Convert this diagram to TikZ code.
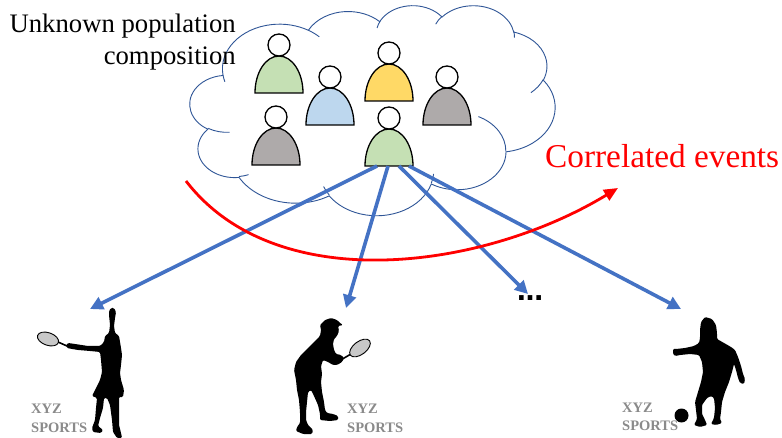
\documentclass[tikz,border=0pt]{standalone}
\usepackage{fontspec}
\setmainfont{Liberation Serif}
\newfontfamily\dotsfont{DejaVu Sans}
\usetikzlibrary{arrows.meta}
\definecolor{cloudblue}{HTML}{2F5597}
\definecolor{arrowblue}{HTML}{4472C4}
\definecolor{pgreen}{HTML}{C5E0B4}
\definecolor{pblue}{HTML}{BDD7EE}
\definecolor{pyellow}{HTML}{FFD966}
\definecolor{pgray}{HTML}{AEAAAA}
\definecolor{logogray}{HTML}{8A8A8A}
\definecolor{racketgray}{HTML}{C8C8C8}
% DrawingML arcTo (visual angles) -> TikZ arc (parametric angles)
\newcommand\carc[4]{arc[x radius=#1, y radius=#2,
  start angle={atan2(#1*sin(#3),#2*cos(#3))},
  delta angle={mod(atan2(#1*sin(#3+#4),#2*cos(#3+#4))-atan2(#1*sin(#3),#2*cos(#3))+720,360)}]}
\tikzset{
  cloudline/.style={draw=cloudblue, line width=0.9pt},
  personline/.style={draw=black, line width=1.3pt},
  bluearrow/.style={draw=arrowblue, line width=3.6pt, -{Triangle[length=13pt,width=13pt]}},
  redarrow/.style={draw=red, line width=2.8pt, -{Triangle[length=14pt,width=12pt]}},
  silhouette/.style={fill=black, rounded corners=1.2pt},
  racket/.style={draw=black, fill=racketgray, line width=0.9pt},
  logo/.style={text=logogray, font=\fontsize{14.5}{16}\selectfont\bfseries, inner sep=0pt, anchor=base west},
  person/.pic={
    \draw[personline, fill=#1] (-24,0) arc[start angle=180, end angle=360, x radius=24, y radius=37] -- cycle;
    \draw[personline, fill=white] (0,-48) circle[radius=11];
    \coordinate (-s1) at (-12,0);
    \coordinate (-s2) at (-1,0);
    \coordinate (-s3) at (10,0);
    \coordinate (-s4) at (20,0);
  }
}
\begin{document}
\begin{tikzpicture}[x=1pt,y=-1pt]
\useasboundingbox[fill=white] (0,0) rectangle (782,438);

% cloud (PowerPoint cloud geometry)
\begin{scope}[xshift=190pt, yshift=-5pt, x=0.84491pt, y=-0.48611pt]
\draw[cloudline] (39.00,143.70)
  \carc{67.53}{91.90}{-190.4875}{123.7805}
  \carc{53.33}{72.67}{-144.1024}{89.9452}
  \carc{43.65}{59.45}{-145.8079}{99.7230}
  \carc{48.57}{65.95}{-130.9861}{117.2417}
  \carc{53.33}{72.73}{-78.7089}{109.0269}
  \carc{67.75}{92.20}{-46.2673}{130.269}
  \carc{57.85}{78.67}{0.625}{114.0333}
  \carc{67.52}{92.15}{22.4516}{115.1726}
  \carc{77.20}{105.43}{66.2426}{75.7110}
  \carc{43.60}{59.18}{-274.9421}{146.7356}
  \carc{43.45}{59.45}{-246.8285}{152.5189} -- cycle;
\draw[cloudline]
  (46.93,261.77) \carc{43.45}{59.45}{86.742}{26.430}
  (69.28,348.99) \carc{43.60}{59.18}{73.611}{11.447}
  (164.78,390.90) \carc{67.52}{92.15}{137.624}{14.081}
  (288.27,347.51) \carc{67.52}{92.15}{6.453}{15.998}
  (341.29,229.54) \carc{57.85}{78.67}{-70.292}{70.917}
  (417.98,153.54) \carc{53.33}{72.73}{30.318}{27.752}
  (383.24,54.26) \carc{48.57}{65.95}{-13.744}{14.859}
  (290.78,39.52) \carc{48.57}{65.95}{-149.181}{18.195}
  (221.41,47.20) \carc{43.65}{59.45}{-163.494}{17.686}
  (140.00,51.92) \carc{67.53}{91.90}{-66.707}{12.319}
  (41.27,157.89) \carc{67.53}{91.90}{157.654}{11.858};
\end{scope}

% people
\pic (p1) at (279,93) {person=pgreen};
\pic (p2) at (330,125) {person=pblue};
\pic (p3) at (276,165) {person=pgray};
\pic (p4) at (389,101) {person=pyellow};
\pic (p5) at (447,125) {person=pgray};
\pic (p6) at (389,166) {person=pgreen};

% texts
\node[anchor=base east, inner sep=0pt, font=\fontsize{26.7}{32}\selectfont] (unk1) at (236,33) {Unknown population};
\node[anchor=base east, inner sep=0pt, font=\fontsize{26.7}{32}\selectfont] (unk2) at (236,65) {composition};
\node[anchor=base west, inner sep=0pt, text=red, font=\fontsize{33.3}{38}\selectfont] (corr) at (545,168) {Correlated events};

% left figure: tennis serve
\fill[silhouette] (111,308) -- (114,308) -- (116,312) -- (115,318) -- (114,326) -- (115,333) -- (119,336)
  -- (120,342) -- (121,348) -- (122,355) -- (121,365) -- (120,373) -- (121,380) -- (124,390) -- (123,397)
  -- (119,397) -- (119,410) -- (119,425) -- (121,433) -- (122,438) -- (117,438) -- (113,432) -- (112,420)
  -- (110,405) -- (107,398) -- (104,398) -- (103,408) -- (100,418) -- (98,426) -- (103,430) -- (101,433)
  -- (93,432) -- (92,428) -- (95,420) -- (96,408) -- (97,398) -- (92,396) -- (96,388) -- (100,380)
  -- (102,372) -- (101,360) -- (100,352) -- (90,351) -- (78,350) -- (72,349) -- (67,348) -- (66,345)
  -- (68,343) -- (75,344) -- (88,346) -- (100,346) -- (104,342) -- (105,336) -- (109,333) -- (110,325)
  -- (109,315) -- (109,311) -- cycle;
\fill (113,339) circle[radius=6];
\draw[line width=1.6pt] (67,346) -- (58,342);
\draw[racket, rotate around={-19:(48,339)}] (48,339) ellipse[x radius=11, y radius=6.3];
\coordinate (f1) at (90,309);
\node[logo] (l1a) at (31,413) {XYZ};
\node[logo] (l1b) at (31,432) {SPORTS};

% middle figure: tennis ready stance
\fill[silhouette] (325,320) -- (331,318) -- (337,320) -- (340,323) -- (343,325) -- (338,326) -- (339,331)
  -- (337,336) -- (334,339) -- (333,344) -- (334,350) -- (336,354) -- (341,355) -- (344,358) -- (342,362)
  -- (337,365) -- (333,365) -- (328,362) -- (323,360) -- (321,366) -- (322,374) -- (321,382) -- (322,392)
  -- (324,402) -- (325,410) -- (327,413) -- (333,414) -- (338,416) -- (338,420) -- (330,421) -- (320,420)
  -- (320,414) -- (318,405) -- (314,396) -- (311,390) -- (308,392) -- (307,402) -- (306,412) -- (306,420)
  -- (308,425) -- (313,430) -- (312,434) -- (303,434) -- (296,431) -- (297,427) -- (300,423) -- (300,412)
  -- (299,400) -- (297,390) -- (296,380) -- (294,370) -- (296,362) -- (301,355) -- (308,348) -- (315,341)
  -- (320,336) -- (321,330) -- (320,325) -- cycle;
\draw[line width=1.6pt] (339,361) -- (351,354);
\draw[racket, rotate around={37:(360,348)}] (360,348) ellipse[x radius=12, y radius=6.5];
\coordinate (f2) at (346,308);
\node[logo] (l2a) at (347,413) {XYZ};
\node[logo] (l2b) at (347,432) {SPORTS};

% dots
\node[inner sep=0pt, font=\dotsfont\bfseries\fontsize{26}{30}\selectfont] (dots) at (530,298) {…};
\coordinate (f3) at (528,294);

% right figure: football
\fill[silhouette] (705,317) -- (712,319) -- (716,325) -- (717,333) -- (717,339) -- (724,343) -- (731,347)
  -- (735,350) -- (738,357) -- (741,366) -- (743,374) -- (745,379) -- (744,384) -- (740,383) -- (738,378)
  -- (736,370) -- (734,364) -- (732,372) -- (729,382) -- (725,392) -- (722,402) -- (721,412) -- (720,419)
  -- (722,423) -- (716,425) -- (711,424) -- (714,418) -- (715,408) -- (714,398) -- (711,396) -- (707,398)
  -- (702,405) -- (702,414) -- (705,420) -- (707,425) -- (700,427) -- (694,425) -- (697,419) -- (696,410)
  -- (695,402) -- (698,392) -- (701,382) -- (703,372) -- (702,362) -- (699,355) -- (690,354) -- (680,355)
  -- (675,356) -- (673,354) -- (673,349) -- (676,349) -- (685,348) -- (694,346) -- (699,343) -- (700,338)
  -- (700,330) -- (701,322) -- cycle;
\fill (681.5,415.5) circle[radius=7];
\coordinate (f4) at (681,309);
\node[logo] (l3a) at (622,412) {XYZ};
\node[logo] (l3b) at (622,430) {SPORTS};

% arrows
\draw[bluearrow] (p6-s1) -- (f1);
\draw[bluearrow] (p6-s2) -- (f2);
\draw[bluearrow] (p6-s3) -- (f3);
\draw[bluearrow] (p6-s4) -- (f4);

\coordinate (ra) at (186,181);
\coordinate (rb) at (618,188);
\draw[redarrow] (ra) .. controls (276,298) and (483,270) .. (rb);
\end{tikzpicture}
\end{document}
